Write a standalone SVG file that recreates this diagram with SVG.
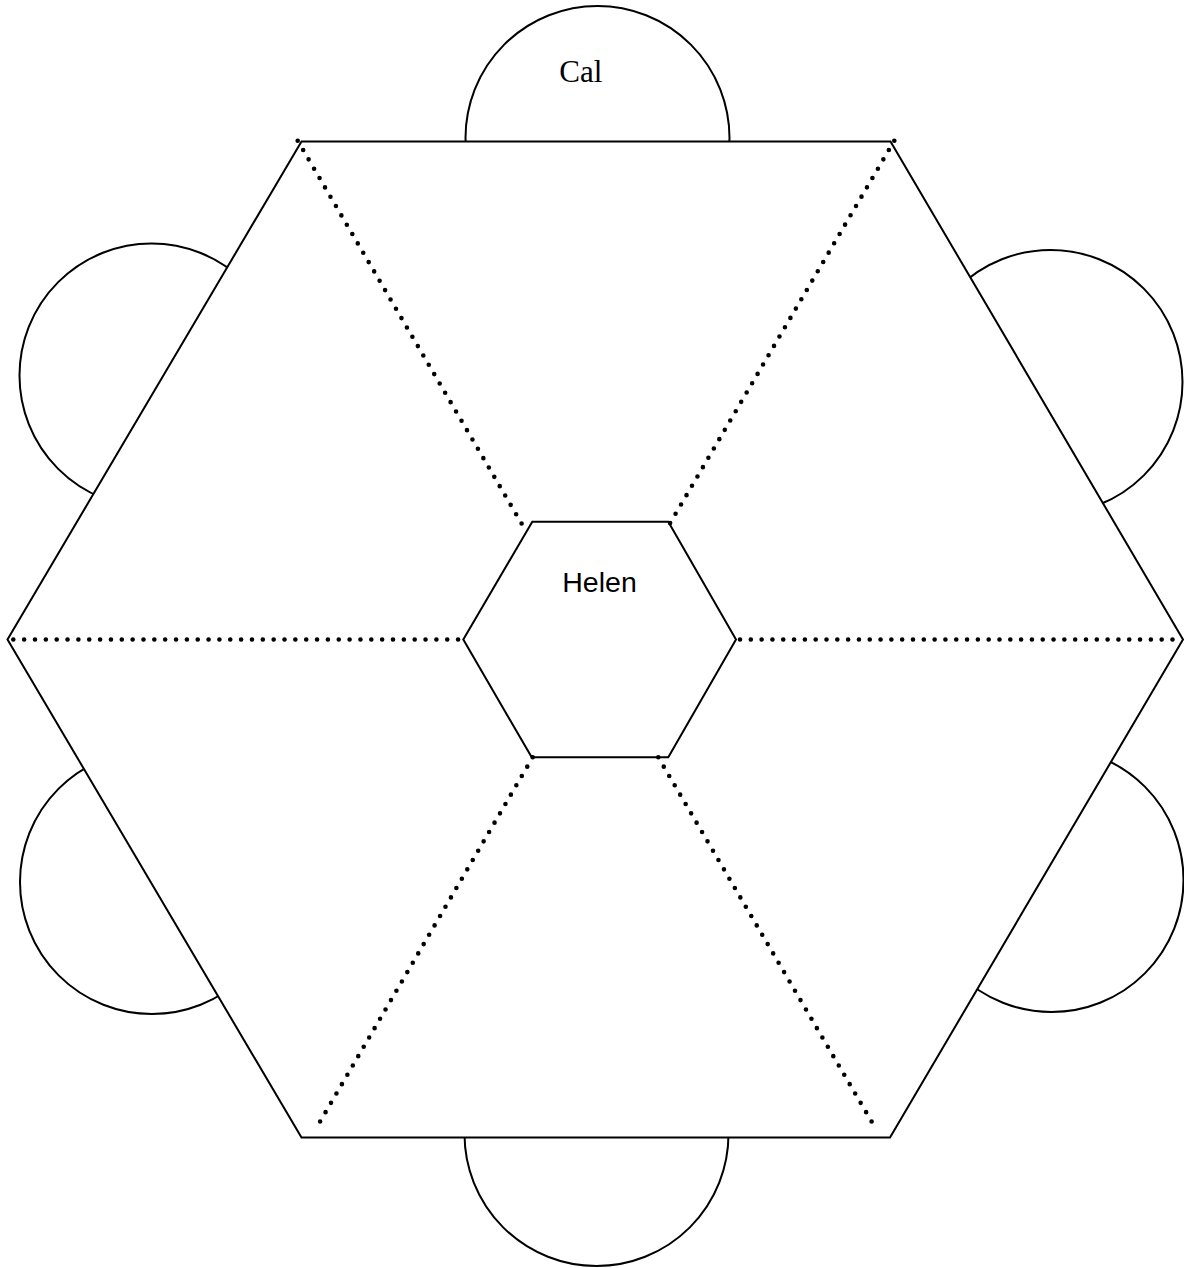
<svg xmlns="http://www.w3.org/2000/svg" width="1184" height="1268" viewBox="0 0 1184 1268">
  <style>
    .shape { fill: #ffffff; stroke: #000000; stroke-width: 2; }
    .dots { fill: none; stroke: #000000; stroke-width: 4.6; stroke-linecap: round; stroke-dasharray: 0 1; }
    .serif { font-family: "Liberation Serif", "Times New Roman", serif; font-size: 31px; fill: #000000; }
    .sans { font-family: "Liberation Sans", Arial, sans-serif; font-size: 28.5px; fill: #000000; }
  </style>
  <rect x="0" y="0" width="1184" height="1268" fill="#ffffff"/>
  <g id="seats">
    <g id="seat-cal"><circle class="shape" cx="597.5" cy="138" r="132"/></g>
    <g id="seat-upper-left"><circle class="shape" cx="151.5" cy="375.5" r="132"/></g>
    <g id="seat-upper-right"><circle class="shape" cx="1050.5" cy="382" r="132"/></g>
    <g id="seat-lower-left"><circle class="shape" cx="152" cy="882" r="132"/></g>
    <g id="seat-lower-right"><circle class="shape" cx="1051.5" cy="880" r="132"/></g>
    <g id="seat-bottom"><circle class="shape" cx="596.5" cy="1134" r="132"/></g>
  </g>
  <g id="table">
    <polygon class="shape" points="301.5,141.5 890.5,141.5 1183,639.5 890,1137.5 301.5,1137.5 7.5,639.5"/>
  </g>
  <g id="connectors">
    <path class="dots" pathLength="41.02" d="M13.3,639.5 L458.3,639.5"/>
    <path class="dots" pathLength="40.02" d="M740,639.5 L1172.7,639.5"/>
    <path class="dots" pathLength="41.02" d="M297.7,140.7 L521.7,523.7"/>
    <path class="dots" pathLength="41.02" d="M894.3,140.7 L670,523.3"/>
    <path class="dots" pathLength="39.02" d="M532.7,757.3 L320,1121.7"/>
    <path class="dots" pathLength="39.02" d="M658.3,757.3 L871.7,1121.7"/>
  </g>
  <g id="center">
    <polygon class="shape" style="fill:none" points="532.3,521.7 668.3,521.7 736,639.5 668.3,757.3 531.7,757.3 463.3,639.5"/>
  </g>
  <g id="labels">
    <text class="serif" x="580.8" y="82" text-anchor="middle">Cal</text>
    <text class="sans" x="599.5" y="591.7" text-anchor="middle">Helen</text>
  </g>
</svg>
